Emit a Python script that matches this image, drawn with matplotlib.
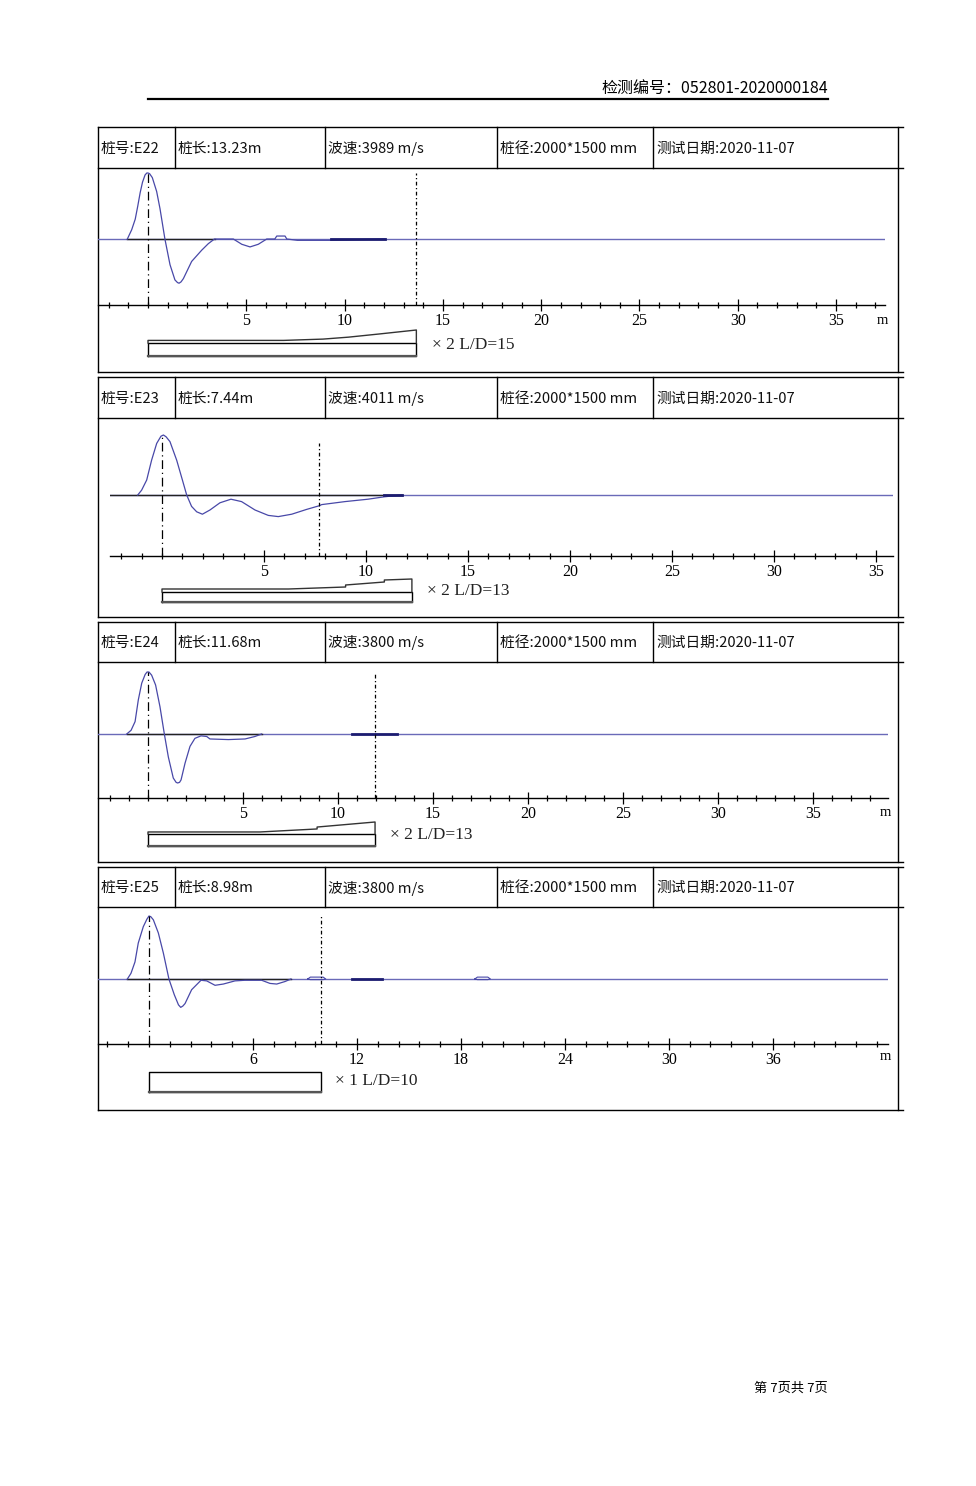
import matplotlib as mpl
mpl.use('Agg')
import matplotlib.pyplot as plt
from matplotlib.ticker import FixedLocator, MultipleLocator

plt.rcParams['font.family'] = ['Noto Sans CJK SC', 'DejaVu Sans']

W, H = 976, 1486

# ---- text content ----
report_no = '检测编号：052801-2020000184'
page_txt = '第 7页共 7页'
pile_ids = ['E22', 'E23', 'E24', 'E25']
pile_len = ['13.23', '7.44', '11.68', '8.98']
wave_speed = ['3989', '4011', '3800', '3800']
pile_diam = '2000*1500'
test_date = '2020-11-07'
scale_txt = ['× 2 L/D=15', '× 2 L/D=13', '× 2 L/D=13', '× 1 L/D=10']

# ---- axis labels ----
major_ticks = [[5, 10, 15, 20, 25, 30, 35],
               [5, 10, 15, 20, 25, 30, 35],
               [5, 10, 15, 20, 25, 30, 35],
               [6, 12, 18, 24, 30, 36]]
minor_step = [1, 1, 1, 1.2]
show_m = [True, False, True, True]

# ---- pile toe (m) and top of toe marker (rel. amplitude) ----
toe_pos = [13.65, 7.7, 11.95, 9.9]
toe_top = [1.0, 0.87, 1.0, 1.0]

# ---- velocity traces (depth m, normalised amplitude) ----
E22_x = [-1.05, -0.83, -0.65, -0.52, -0.40, -0.28, -0.15, -0.06, 0.0, 0.08, 0.22, 0.44, 0.61, 0.86, 1.12,
         1.37, 1.50, 1.58, 1.68, 1.80, 2.22, 2.73, 3.07, 3.38, 4.34, 4.77, 5.19, 5.61, 6.04, 6.45, 6.55,
         6.97, 7.06, 7.6, 9.3, 12.05]
E22_y = [0, 0.14, 0.30, 0.50, 0.70, 0.86, 0.97, 1.0, 1.0, 0.99, 0.93, 0.72, 0.46, 0.0, -0.39,
         -0.62, -0.66, -0.67, -0.65, -0.60, -0.34, -0.17, -0.07, 0.0, 0.0, -0.08, -0.12, -0.08, 0.0, 0.0, 0.045,
         0.045, 0.0, -0.02, -0.02, 0.0]

E23_x = [-1.19, -1.0, -0.75, -0.51, -0.26, -0.05, 0.07, 0.2, 0.39, 0.72, 1.0, 1.21, 1.45, 1.70, 1.98,
         2.35, 2.84, 3.38, 3.9, 4.56, 5.21, 5.7, 6.36, 7.09, 7.7, 7.83, 8.97, 10.1, 10.9, 11.75]
E23_y = [0, 0.08, 0.25, 0.58, 0.86, 0.98, 1.0, 0.97, 0.89, 0.58, 0.25, 0, -0.19, -0.28, -0.32,
         -0.25, -0.13, -0.07, -0.11, -0.25, -0.34, -0.36, -0.32, -0.24, -0.18, -0.16, -0.11, -0.07, -0.03, 0]

E24_x = [-1.12, -0.89, -0.68, -0.51, -0.33, -0.15, -0.05, 0.05, 0.19, 0.4, 0.63, 0.86, 1.07, 1.33, 1.48,
         1.56, 1.66, 1.74, 1.95, 2.21, 2.47, 2.79, 3.09, 3.26, 4.23, 5.11, 5.63, 5.98]
E24_y = [0, 0.06, 0.2, 0.55, 0.82, 0.96, 1.0, 1.0, 0.95, 0.79, 0.44, 0, -0.37, -0.71, -0.78,
         -0.79, -0.78, -0.74, -0.47, -0.2, -0.07, -0.03, -0.04, -0.08, -0.09, -0.08, -0.04, 0]

E25_x = [-1.25, -1.04, -0.81, -0.62, -0.33, -0.12, 0.0, 0.1, 0.25, 0.54, 0.83, 1.15, 1.46, 1.70, 1.83,
         1.95, 2.08, 2.46, 3.0, 3.33, 3.81, 4.29, 4.96, 5.54, 6.5, 6.98, 7.37, 7.85, 8.19]
E25_y = [0, 0.09, 0.27, 0.57, 0.83, 0.95, 1.0, 0.99, 0.94, 0.73, 0.41, 0, -0.25, -0.41, -0.45,
         -0.43, -0.39, -0.17, -0.02, -0.03, -0.1, -0.08, -0.03, -0.02, -0.02, -0.07, -0.08, -0.04, 0]

traces_x = [E22_x, E23_x, E24_x, E25_x]
traces_y = [E22_y, E23_y, E24_y, E25_y]

# dark overlaid segments on the zero line (start, end in m)
dark_segs = [[(9.3, 12.05)], [(10.9, 11.75)], [(10.72, 13.09)], [(11.73, 13.46)]]
# black part of the zero line
black_zero = [(-1.05, 3.4), (-2.55, 11.75), (-1.12, 6.0), (-1.25, 8.2)]
# small blips (start, end, height)
blips = [[], [], [], [(9.16, 10.2, 0.03), (18.8, 19.7, 0.03)]]

# ---- pile profile (depth m, relative width) ----
E22_pd = [0, 6.9, 8.9, 10.2, 11.8, 13.65]
E22_ph = [1.2, 1.2, 1.3, 1.45, 1.7, 2.0]
E23_pd = [0, 6.2, 9.0, 9.0, 10.9, 10.9, 12.25]
E23_ph = [1.3, 1.3, 1.5, 1.7, 2.0, 2.2, 2.3]
E24_pd = [0, 5.9, 8.9, 8.9, 11.95]
E24_ph = [1.17, 1.17, 1.42, 1.58, 2.0]
E25_pd = [0, 9.9]
E25_ph = [1.0, 1.0]
prof_d = [E22_pd, E23_pd, E24_pd, E25_pd]
prof_h = [E22_ph, E23_ph, E24_ph, E25_ph]

# ---- page layout in pixels ----
layout = [
    dict(top=127, hb=168, bot=372, axy=305, x0=98, x1=885, zero=148, ppm=19.66, base=239, peak=173,
         pbase=356, punit=13, txt_x=432, txt_y=345, m_y=320),
    dict(top=377, hb=418, bot=617, axy=556, x0=110, x1=893, zero=162, ppm=20.4, base=495, peak=435,
         pbase=602, punit=10, txt_x=427, txt_y=591, m_y=568),
    dict(top=622, hb=662, bot=862, axy=798, x0=98, x1=888, zero=148, ppm=19.0, base=734, peak=672,
         pbase=846, punit=12, txt_x=390, txt_y=835, m_y=812),
    dict(top=867, hb=907, bot=1110, axy=1044, x0=98, x1=888, zero=149, ppm=17.33, base=979, peak=916,
         pbase=1092, punit=20, txt_x=335, txt_y=1081, m_y=1056),
]
col_x = [98, 175, 325, 497, 653]

WAVE = '#4848a8'
ZERO = '#6a6ab8'
DARK = '#1c1c70'

fig = plt.figure(figsize=(W / 100, H / 100), dpi=100)


def px_axes(x0, y0, x1, y1):
    return fig.add_axes([x0 / W, 1 - y1 / H, (x1 - x0) / W, (y1 - y0) / H])


page = px_axes(0, 0, W, H)
page.set_xlim(0, W)
page.set_ylim(H, 0)
page.axis('off')

# header / footer
page.text(828, 88, report_no, ha='right', va='center', fontsize=11.5)
page.plot([148, 828], [99, 99], color='black', lw=1.6)
page.text(828, 1388, page_txt, ha='right', va='center', fontsize=9.5)

for i, L in enumerate(layout):
    # frame
    for yy in (L['top'], L['hb'], L['bot']):
        page.plot([98, 903], [yy, yy], color='black', lw=1)
    page.plot([98, 98], [L['top'], L['bot']], color='black', lw=1)
    page.plot([898, 898], [L['top'], L['bot']], color='black', lw=1)
    for cx in col_x[1:]:
        page.plot([cx, cx], [L['top'], L['hb']], color='black', lw=1)
    cells = ['桩号:' + pile_ids[i], '桩长:' + pile_len[i] + 'm', '波速:' + wave_speed[i] + ' m/s',
             '桩径:' + pile_diam + ' mm', '测试日期:' + test_date]
    ym = (L['top'] + L['hb']) / 2 + 1
    for cx, c in zip(col_x, cells):
        page.text(cx + 3, ym, c, ha='left', va='center', fontsize=10.6, color='#111111')

    # waveform axes
    ax = px_axes(L['x0'], L['hb'] + 1, L['x1'], L['axy'])
    amp = L['base'] - L['peak']
    ax.set_ylim(-(L['axy'] - L['base']) / amp, (L['base'] - L['hb'] - 1) / amp)
    xl = ((L['x0'] - L['zero']) / L['ppm'], (L['x1'] - L['zero']) / L['ppm'])
    ax.set_xlim(*xl)
    ax.patch.set_alpha(0)
    for s in ('top', 'left', 'right'):
        ax.spines[s].set_visible(False)
    ax.spines['bottom'].set_linewidth(1.0)
    ax.set_yticks([])
    ax.xaxis.set_major_locator(FixedLocator(major_ticks[i]))
    ax.xaxis.set_minor_locator(MultipleLocator(minor_step[i]))
    ax.set_xticklabels([str(t) for t in major_ticks[i]], family='Liberation Serif', fontsize=11.5)
    ax.tick_params(axis='x', which='major', direction='inout', length=8, width=0.9, pad=1.5)
    ax.tick_params(axis='x', which='minor', direction='inout', length=5, width=0.9)

    ax.axhline(0, color=ZERO, lw=1.0, zorder=1)
    ax.plot(black_zero[i], [0, 0], color='#222222', lw=1.0, zorder=2)
    ax.plot(traces_x[i], traces_y[i], color=WAVE, lw=0.9, zorder=3)
    for a, b in dark_segs[i]:
        ax.plot([a, b], [0, 0], color=DARK, lw=2.0, zorder=3)
    for a, b, h in blips[i]:
        ax.plot([a, a + 0.15, b - 0.15, b, b - 0.15, a + 0.15, a], [0, h, h, 0, -h / 3, -h / 3, 0],
                color=WAVE, lw=0.8, zorder=3)
    ylo = ax.get_ylim()[0]
    ax.plot([0, 0], [ylo, 1.0], color='black', lw=0.9, ls=(0, (7, 3, 1, 3)), zorder=4)
    ax.plot([toe_pos[i], toe_pos[i]], [ylo, toe_top[i]], color='black', lw=0.9,
            ls=(0, (3, 2, 1, 2)), zorder=4)
    if show_m[i]:
        page.text(L['x1'] - 3, L['m_y'], 'm', ha='center', va='center', fontsize=10.5,
                  family='Liberation Serif')

    # pile profile
    pa = px_axes(L['x0'], L['pbase'] - 32, L['x1'], L['pbase'] + 4)
    pa.set_xlim(*xl)
    pa.set_ylim(-4 / L['punit'], 32 / L['punit'])
    pa.axis('off')
    pe = prof_d[i][-1]
    pa.plot([0, pe, pe, 0, 0], [0, 0, 1, 1, 0], color='black', lw=1.0)
    if len(prof_d[i]) > 2:
        pa.plot([0] + prof_d[i] + [pe], [1] + prof_h[i] + [1], color='#333333', lw=1.0)
    pa.plot([0, pe], [0, 0], color='#555555', lw=1.6)
    page.text(L['txt_x'], L['txt_y'], scale_txt[i], ha='left', va='center', fontsize=12.5,
              family=['Liberation Serif', 'DejaVu Sans'], color='#222222')

fig.savefig('out.png', dpi=100, facecolor='white')
